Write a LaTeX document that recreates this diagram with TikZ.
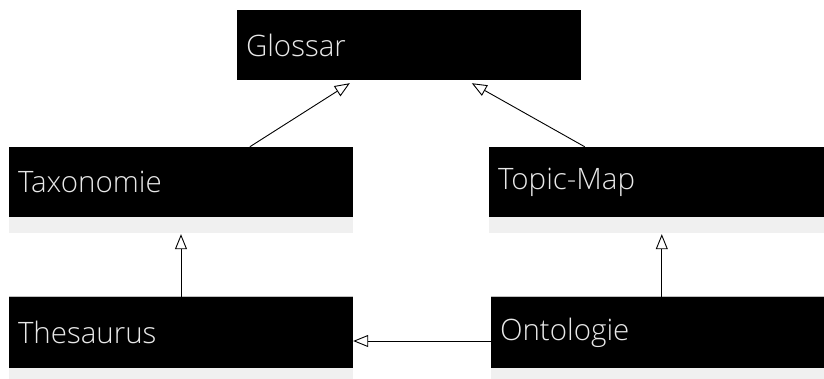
\documentclass[tikz,border=0pt]{standalone}
\usepackage{fontspec}
\setmainfont{Open Sans}[UprightFont=* Light]
\usetikzlibrary{arrows.meta,calc}
\definecolor{labelgray}{HTML}{E8E8E8}
\definecolor{stripgray}{HTML}{F0F0F0}
\definecolor{edgegray}{HTML}{C0C0C0}
\tikzset{
  x=1pt, y=-1pt,
  conceptbox/.style={fill=black, text=labelgray, minimum width=344pt,
    minimum height=70pt, inner sep=0pt, text width=326pt, align=left,
    font=\fontsize{29.5}{32}\selectfont},
  strip/.style={fill=stripgray},
  gen/.style={draw=black, line width=0.9pt,
    -{Triangle[open, length=15pt, width=12pt, line width=0.9pt]}}
}
\begin{document}
\begin{tikzpicture}
\useasboundingbox (0,0) rectangle (824,378);

% concept boxes
\node[conceptbox] (glo) at (409,45) {Glossar};
\node[conceptbox] (tax) at (181,182) {Taxonomie};
\node[conceptbox] (top) at (661,182) {Topic-Map};
\node[conceptbox, minimum height=71pt] (the) at (181,332.5) {Thesaurus};
\node[conceptbox, minimum height=71pt] (ont) at (663,332.5) {Ontologie};

% light strips under the boxes
\fill[strip] (tax.south west) rectangle ($(tax.south east)+(0,16)$);
\fill[strip] (top.south west) rectangle ($(top.south east)+(0,16)$);
\fill[strip] (the.south west) rectangle ($(the.south east)+(0,12)$);
\fill[strip] (ont.south west) rectangle ($(ont.south east)+(0,12)$);
\draw[edgegray, line width=0.8pt] (the.north west) -- (the.north east);
\draw[edgegray, line width=0.8pt] (ont.north west) -- (ont.north east);

% generalisation arrows
\draw[gen] ($(tax.north west)+(241,0)$) -- ($(glo.south west)+(113,3)$);
\draw[gen] ($(top.north west)+(96,0)$) -- ($(glo.south west)+(235,3)$);
\draw[gen] (the.north) -- ($(tax.south)+(0,17)$);
\draw[gen] ($(ont.north west)+(171,0)$) -- ($(top.south west)+(173,17)$);
\draw[gen] ($(ont.west)+(0,8.5)$) -- ($(the.east)+(0,8.5)$);
\end{tikzpicture}
\end{document}
